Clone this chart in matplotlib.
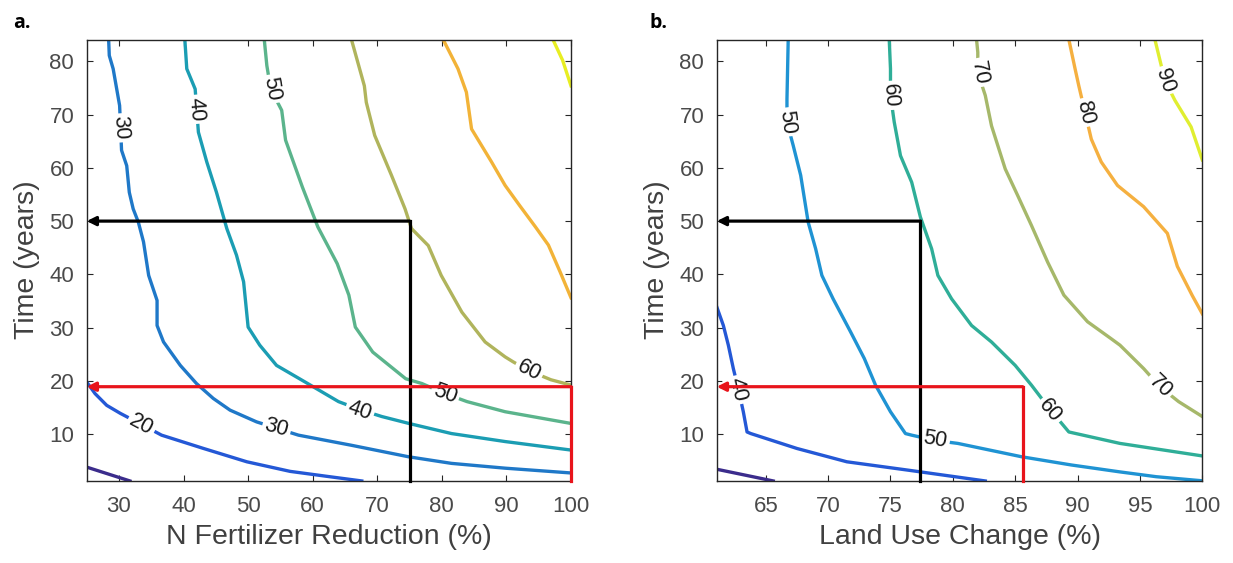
import matplotlib.pyplot as plt

plt.rcParams['font.family'] = ['Liberation Sans', 'DejaVu Sans']

# ---------------------------------------------------------------------------
# a. N fertilizer reduction (%) vs time (years), contour lines traced per level
# ---------------------------------------------------------------------------
a10_x = [25, 31.7]
a10_y = [3.8, 1.2]
a20_x = [25, 26.3, 28.1, 30.2, 33.5, 36.6, 43.1, 49.8, 56.5, 62, 67.6]
a20_y = [19.8, 17.6, 15.4, 13.9, 11.8, 9.8, 7.3, 4.8, 3.0, 2.1, 1.2]
a30_x = [28.4, 28.5, 29.1, 30.1, 30.4, 31.2, 31.6, 32.2, 33.0, 33.8, 34.6, 35.9,
         35.9, 36.9, 39.5, 42.0, 44.6, 47.2, 51.3, 54.4, 57.8, 66.0, 74.8, 81.5,
         89.8, 100]
a30_y = [84.1, 81.1, 78.6, 71.7, 63.3, 60.4, 55.4, 52.3, 49.8, 46.1, 39.8, 35.1,
         30.4, 27.3, 22.9, 19.5, 16.7, 14.5, 12.3, 11.1, 9.8, 7.9, 5.75, 4.5,
         3.6, 2.7]
a40_x = [40.2, 40.5, 41.8, 42.3, 43.6, 45.1, 46.7, 48.2, 49.3, 50.0, 51.8, 54.4,
         58.8, 64.0, 67.3, 70.7, 74.9, 81.5, 89.8, 100]
a40_y = [84.1, 78.6, 74.8, 66.7, 61.1, 55.4, 48.6, 43.6, 38.6, 30.1, 26.7, 22.9,
         19.8, 16.1, 14.6, 13.3, 12.0, 10.1, 8.6, 7.0]
a50_x = [52.5, 52.9, 53.5, 55.2, 55.8, 58.4, 60.8, 63.8, 65.6, 66.6, 69.3, 74.4,
         76.9, 80.5, 83.9, 89.8, 100]
a50_y = [84.1, 79.2, 74.8, 70.8, 65.2, 56.4, 48.9, 42.0, 36.1, 30.1, 25.4, 20.4,
         19.5, 17.6, 16.1, 14.2, 12.0]
a60_x = [66.0, 68.0, 68.3, 69.6, 72.2, 74.3, 75.3, 77.9, 79.9, 83.1, 86.7, 89.8,
         91.0, 93.3, 96.9, 100]
a60_y = [84.1, 75.4, 72.3, 66.1, 58.6, 52.3, 48.6, 45.4, 39.8, 32.9, 27.3, 24.5,
         23.6, 22.0, 20.2, 19.2]
a70_x = [80.2, 82.5, 83.8, 84.6, 87.7, 89.8, 92.0, 94.5, 96.5, 98.3, 100]
a70_y = [84.1, 78.6, 74.2, 67.3, 61.1, 56.7, 53.0, 48.9, 45.5, 40.5, 35.6]
a80_x = [97.2, 98.7, 100]
a80_y = [84.1, 80.2, 75.4]

a_levels = [10, 20, 30, 40, 50, 60, 70, 80]
a_colors = ['#3b2c8c', '#2458d6', '#1f78c8', '#1b9db3', '#5bb48c', '#b0b45c',
            '#f2b338', '#e8ee22']

# clabel text: value, x, y, rotation
a_lab_val = [30, 40, 50, 20, 30, 40, 50, 60]
a_lab_x = [30.2, 42.0, 53.6, 33.5, 54.4, 67.3, 80.5, 93.5]
a_lab_y = [67.5, 71.0, 74.8, 11.8, 11.1, 14.4, 17.5, 22.0]
a_lab_rot = [-86, -85, -80, -28, -15, -19, -20, -27]

# ---------------------------------------------------------------------------
# b. land use change (%) vs time (years)
# ---------------------------------------------------------------------------
b30_x = [61.07, 65.6]
b30_y = [3.4, 1.2]
b40_x = [61.07, 61.6, 62.0, 62.4, 62.8, 63.2, 63.5, 63.8, 67.5, 71.5, 76.5, 82.6]
b40_y = [33.9, 30.4, 26.7, 22.3, 18.5, 14.2, 10.4, 10.1, 7.3, 4.8, 3.2, 1.2]
b50_x = [66.8, 66.7, 66.7, 67.2, 67.8, 68.4, 69.0, 69.5, 70.4, 71.8, 72.9, 73.8,
         75.0, 76.2, 76.7, 78.6, 80.4, 85.5, 89.5, 93.4, 96.3, 99.9]
b50_y = [84.1, 72.9, 68.6, 64.2, 58.6, 49.8, 44.8, 39.8, 35.4, 29.2, 24.2, 19.2,
         14.2, 10.1, 9.8, 8.8, 8.25, 5.75, 4.2, 2.9, 2.0, 1.25]
b60_x = [74.9, 75.0, 75.0, 75.3, 75.8, 76.7, 77.4, 78.3, 78.8, 79.9, 81.5, 83.1,
         85.0, 86.3, 87.8, 89.3, 93.4, 100]
b60_y = [84.1, 78.6, 73.6, 68.6, 62.3, 57.3, 50.75, 44.8, 39.8, 35.4, 30.4, 27.3,
         22.9, 19.2, 14.6, 10.4, 8.25, 5.9]
b70_x = [81.9, 82.0, 82.0, 82.6, 83.1, 84.2, 85.2, 86.3, 87.6, 88.9, 90.8, 92.7,
         93.4, 95.3, 96.6, 98.1, 100]
b70_y = [84.1, 81.7, 77.9, 73.6, 67.9, 59.8, 54.8, 49.2, 42.3, 36.1, 31.1, 27.9,
         26.7, 22.3, 18.9, 16.1, 13.3]
b80_x = [89.3, 89.8, 90.1, 90.6, 91.1, 91.9, 93.2, 95.3, 97.2, 98.0, 99.2, 100]
b80_y = [84.1, 78.6, 75.4, 70.4, 65.4, 61.1, 56.7, 52.7, 47.7, 41.5, 36.0, 32.6]
b90_x = [96.2, 97.0, 97.8, 99.1, 100]
b90_y = [84.1, 76.4, 72.7, 67.7, 61.5]

b_levels = [30, 40, 50, 60, 70, 80, 90]
b_colors = ['#3b2c8c', '#2458d6', '#1f93d3', '#2fae98', '#a6b86a', '#f5b040',
            '#e0ee30']

b_lab_val = [50, 60, 70, 80, 90, 40, 50, 60, 70]
b_lab_x = [66.7, 75.0, 82.1, 90.6, 97.0, 62.75, 78.6, 87.8, 96.6]
b_lab_y = [68.6, 73.6, 77.9, 70.4, 76.4, 18.3, 8.9, 14.4, 19.0]
b_lab_rot = [-83, -86, -80, -77, -72, -77, -10, -50, -44]

# guide arrows: corner (x, y) of the black and red paths
a_black = (75, 50)
a_red = (100, 18.9)
b_black = (77.4, 50)
b_red = (85.6, 18.9)

t_lim = (1.25, 84.1)

a_lines = [(a10_x, a10_y), (a20_x, a20_y), (a30_x, a30_y), (a40_x, a40_y),
           (a50_x, a50_y), (a60_x, a60_y), (a70_x, a70_y), (a80_x, a80_y)]
b_lines = [(b30_x, b30_y), (b40_x, b40_y), (b50_x, b50_y), (b60_x, b60_y),
           (b70_x, b70_y), (b80_x, b80_y), (b90_x, b90_y)]


def draw_guide(ax, corner, color, x0, y0):
    xc, yc = corner
    ax.plot([xc, xc], [y0, yc], color=color, lw=2.3, zorder=5,
            solid_capstyle='projecting', clip_on=False)
    ax.annotate('', xy=(x0, yc), xytext=(xc, yc), zorder=5,
                arrowprops=dict(arrowstyle='-|>', color=color, lw=2.3,
                                mutation_scale=13, shrinkA=0, shrinkB=0))


def draw_panel(ax, lines, colors, lab_val, lab_x, lab_y, lab_rot, xlim,
               xticks, xlabel, black, red):
    for (xs, ys), c in zip(lines, colors):
        ax.plot(xs, ys, color=c, lw=2.4, zorder=2, solid_joinstyle='round')
    for v, x, y, r in zip(lab_val, lab_x, lab_y, lab_rot):
        ax.text(x, y, str(v), rotation=r, rotation_mode='anchor', ha='center',
                va='center', fontsize=15.5, color='#1a1a1a', zorder=3,
                bbox=dict(boxstyle='square,pad=0.12', fc='white', ec='none'))
    draw_guide(ax, black, 'black', xlim[0], t_lim[0])
    draw_guide(ax, red, '#e8141b', xlim[0], t_lim[0])

    ax.set_xlim(*xlim)
    ax.set_ylim(*t_lim)
    ax.set_xticks(xticks)
    ax.set_yticks(range(10, 90, 10))
    ax.tick_params(direction='in', length=4, width=0.8, top=True, right=True,
                   labelsize=16, labelcolor='#4a4a4a', color='#262626')
    ax.tick_params(axis='x', pad=11)
    ax.tick_params(axis='y', pad=9)
    for s in ax.spines.values():
        s.set_color('#262626')
        s.set_linewidth(1.0)
    ax.set_xlabel(xlabel, fontsize=20.5, color='#404040', labelpad=5)
    ax.set_ylabel('Time (years)', fontsize=20.5, color='#404040', labelpad=7)


fig = plt.figure(figsize=(12.33, 5.63), dpi=100)
ax1 = fig.add_axes([0.0703, 0.1462, 0.3928, 0.7836])
ax2 = fig.add_axes([0.5813, 0.1462, 0.3938, 0.7836])

draw_panel(ax1, a_lines, a_colors, a_lab_val, a_lab_x, a_lab_y, a_lab_rot,
           (25, 100), range(30, 110, 10), 'N Fertilizer Reduction (%)',
           a_black, a_red)
draw_panel(ax2, b_lines, b_colors, b_lab_val, b_lab_x, b_lab_y, b_lab_rot,
           (61.07, 100), range(65, 105, 5), 'Land Use Change (%)',
           b_black, b_red)

fig.text(0.011, 0.95, 'a.', fontsize=14, fontweight='bold',
         family=['Open Sans', 'DejaVu Sans'])
fig.text(0.527, 0.95, 'b.', fontsize=14, fontweight='bold',
         family=['Open Sans', 'DejaVu Sans'])

fig.savefig('out.png', dpi=100)
